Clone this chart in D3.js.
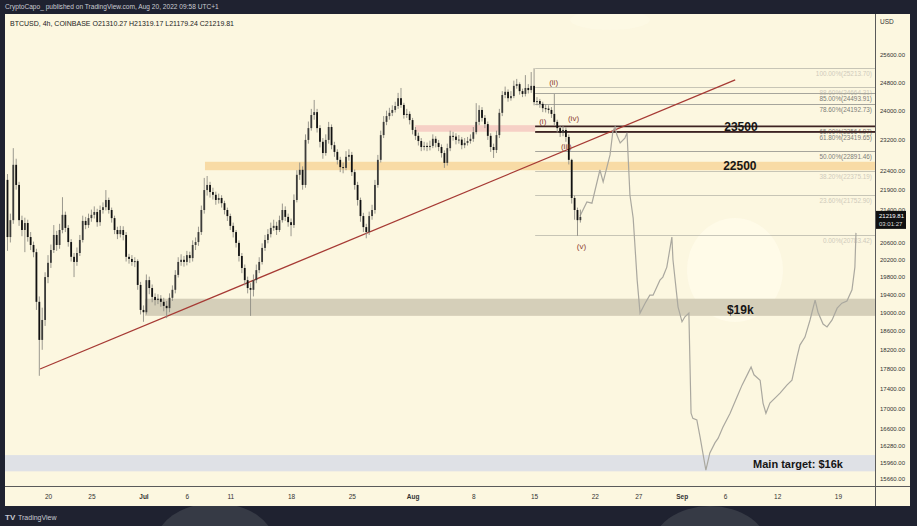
<!DOCTYPE html>
<html><head><meta charset="utf-8">
<script src="https://cdn.jsdelivr.net/npm/d3@7"></script>
<style>
html,body{margin:0;padding:0;background:#1f2230;}
svg{display:block;}
text{font-family:"Liberation Sans",Arial,sans-serif;}
</style></head><body>
<svg id="c" width="917" height="526"></svg>
<script>
// ---------------- DATA ----------------
const headerText = "CryptoCapo_ published on TradingView.com, Aug 20, 2022 09:58 UTC+1";
const symbolText = "BTCUSD, 4h, COINBASE  O21310.27  H21319.17  L21179.24  C21219.81";
const candleStart = "2022-06-15T08:00:00Z";
const candleHours = 8;
const firstOpen = 22150;
const closes = [20730,21140,22540,22020,21140,20900,21070,20730,20540,20370,
19230,18400,18830,19790,20120,20420,20780,20540,20900,21270,
20950,20610,20260,20140,20350,20660,21120,21020,21190,21270,
21340,21090,21390,21460,21640,21390,21190,20900,20800,20900,
20780,20260,20210,20140,20160,19610,19050,19000,19720,19540,
19340,19270,19300,19230,19140,19090,19320,19500,19840,20140,
20190,20140,20300,20230,20540,20610,20850,21390,21890,22020,
21840,21770,21640,21690,21560,21390,21240,21000,20850,20590,
20280,20000,19720,19540,19500,19720,19950,20140,20470,20660,
20800,20950,21000,20900,21140,21390,21220,21090,21020,21640,
22280,22410,22020,23200,23520,23880,23960,23520,23150,22850,
23200,23550,23060,22880,22670,22480,22460,22750,22800,22350,
22020,21640,21240,20970,20850,21240,21390,22020,22670,23330,
23690,23850,23940,24020,24130,24350,24160,23880,23910,23740,
23470,23310,23170,23010,23040,23010,23040,23230,23120,23010,
22850,22590,22980,23310,23290,23200,23210,23060,23120,23170,
23230,23410,23690,24020,23800,23630,23310,23010,22930,23330,
23940,24440,24530,24350,24410,24700,24750,24550,24470,24640,
24580,24700,24240,24270,24190,24070,24060,24020,23910,23690,
23520,23390,23470,23280,22670,21690,21390,21140,21219.81];
const highs = [22300,21300,22980,22700,22100,21250,21200,21150,20850,20620,
20450,19350,19100,19900,20300,20550,21020,20880,21050,21710,
21350,21020,20680,20350,20480,20780,21250,21220,21300,21400,
21480,21420,21500,21580,21890,21700,21450,21250,20980,21000,
20990,20850,20330,20300,20250,20200,19680,19150,19850,19800,
19620,19420,19400,19380,19320,19250,19420,19600,19950,20250,
20320,20280,20400,20380,20650,20720,20980,21500,22200,22250,
22100,21950,21850,21800,21760,21620,21450,21300,21080,20900,
20650,20350,20080,19800,19650,19850,20080,20250,20580,20780,
20920,21080,21150,21100,21250,21550,21480,21300,21180,21780,
22400,22600,22500,23350,23700,24050,24300,24050,23600,23250,
23350,23690,23620,23150,22950,22750,22600,22900,22950,22880,
22420,22100,21700,21320,21050,21350,21520,22150,22800,23450,
23850,24000,24080,24150,24250,24500,24640,24220,24050,23980,
23800,23550,23400,23250,23150,23130,23180,23350,23300,23200,
23080,22920,23100,23450,23420,23380,23330,23280,23250,23280,
23350,23550,24210,24150,24100,23880,23700,23380,23100,23450,
24050,24550,24680,24600,24550,24850,24900,24800,24620,25010,
24750,25100,25210,24380,24330,24250,24180,24150,24100,24470,
23750,23600,23580,23540,23350,22700,21750,21450,21400];
const lows = [20400,20600,21050,21900,21000,20750,20370,20620,20420,20250,
19050,17650,18190,18700,19650,20000,20350,20400,20450,20820,
20850,20500,20150,19790,20050,20280,20600,20920,20950,21100,
21180,20980,21000,21300,21380,21300,21080,20800,20680,20720,
20650,20150,20100,20050,20020,19500,18950,18790,18950,19400,
19220,19150,19180,19120,19020,18870,19000,19250,19420,19780,
20050,20030,20060,20120,20150,20420,20520,20780,21300,21750,
21700,21650,21520,21550,21450,21280,21120,20900,20720,20480,
20150,19880,19600,19420,18920,19350,19650,19880,20080,20400,
20580,20720,20880,20780,20850,21080,21120,20980,20750,20950,
21580,22150,21900,21950,23100,23450,23750,23400,23000,22700,
22780,23100,22950,22750,22550,22350,22320,22400,22650,22250,
21900,21500,21100,20850,20700,20780,21150,21300,21950,22600,
23250,23600,23750,23850,23950,24050,24080,23780,23800,23620,
23350,23200,23050,22900,22920,22900,22920,22980,23000,22900,
22730,22460,22520,22900,23180,23080,23100,22950,22980,23050,
23100,23150,23350,23600,23700,23520,23200,22880,22720,22850,
23250,23850,24350,24250,24280,24350,24620,24450,24380,24400,
24480,24500,24150,24150,24080,23960,23950,23920,23800,23600,
23400,23280,23300,23150,22550,21550,21150,20760,21080];

// forecast path (drawn by the author)
const forecastDates = ["2022-08-20T07:00Z","2022-08-21T02:00Z","2022-08-21T16:00Z","2022-08-22T14:00Z","2022-08-22T23:00Z",
"2022-08-23T18:00Z","2022-08-24T02:00Z","2022-08-24T08:00Z","2022-08-24T13:00Z","2022-08-24T22:00Z",
"2022-08-25T11:00Z","2022-08-25T17:00Z","2022-08-26T01:00Z","2022-08-26T10:00Z","2022-08-26T21:00Z",
"2022-08-27T05:00Z","2022-08-27T19:00Z","2022-08-28T08:00Z","2022-08-28T17:00Z","2022-08-29T12:00Z",
"2022-08-29T20:00Z","2022-08-30T07:00Z","2022-08-30T21:00Z","2022-08-31T00:00Z","2022-08-31T14:00Z",
"2022-09-01T01:00Z","2022-09-01T09:00Z","2022-09-01T20:00Z","2022-09-02T02:00Z","2022-09-02T07:00Z",
"2022-09-02T18:00Z","2022-09-03T03:00Z","2022-09-03T19:00Z","2022-09-04T06:00Z","2022-09-04T20:00Z",
"2022-09-05T05:00Z","2022-09-05T18:00Z","2022-09-06T14:00Z","2022-09-07T09:00Z","2022-09-07T23:00Z",
"2022-09-08T16:00Z","2022-09-09T00:00Z","2022-09-09T08:00Z","2022-09-10T01:00Z","2022-09-10T09:00Z",
"2022-09-10T17:00Z","2022-09-11T04:00Z","2022-09-11T18:00Z","2022-09-12T08:00Z","2022-09-13T03:00Z",
"2022-09-13T17:00Z","2022-09-14T07:00Z","2022-09-14T15:00Z","2022-09-15T05:00Z","2022-09-15T19:00Z",
"2022-09-16T09:00Z","2022-09-16T17:00Z","2022-09-17T07:00Z","2022-09-17T18:00Z","2022-09-18T08:00Z",
"2022-09-18T22:00Z","2022-09-19T11:00Z","2022-09-20T01:00Z","2022-09-20T15:00Z","2022-09-20T23:00Z",
"2022-09-21T02:00Z"];
const forecastPrices = [21240,21590,21560,22405,22100,
22800,23440,23550,23330,23120,
23250,23390,21765,21190,19720,
18980,19200,19380,19380,19720,
19790,20020,20730,20190,19120,
18790,18900,18980,16900,16800,
16770,16440,15820,16140,16330,
16420,16630,16900,17220,17460,
17710,17830,17670,17560,17100,
16900,17100,17200,17300,17460,
17560,18040,18290,18460,18830,
19270,19000,18740,18680,18830,
19090,19200,19250,19500,20020,
20830];

// trendline
const trendDates = ["2022-06-19T02:00Z","2022-09-07T04:00Z"];
const trendPrices = [17790,24870];

// fibonacci retracement
const fibStart = "2022-08-15T03:00Z";
const fibLevels = [1, 0.886, 0.85, 0.786, 0.65, 0.618, 0.5, 0.382, 0.236, 0];
const fibPrices = [25213.70, 24664.31, 24493.91, 24192.73, 23564.97, 23419.65, 22891.46, 22375.19, 21752.90, 20783.42];

// zones
const zoneNames = ["19k","22500","23500","16k"];
const zoneStart = ["2022-07-01T04:00Z","2022-07-08T02:00Z","2022-08-01T07:00Z","2022-06-15T00:00Z"];
const zoneEnd   = ["end","end","2022-08-15T03:00Z","end"];
const zoneTop   = [19300, 22620, 23600, 16100];
const zoneBottom= [18920, 22400, 23420, 15800];

// text annotations
const noteTexts  = ["23500","22500","$19k","Main target: $16k"];
const noteDates  = ["2022-09-07T20:00Z","2022-09-07T17:00Z","2022-09-07T18:00Z","2022-09-19T14:00Z"];
const notePrices = [23430, 22400, 18960, 15860];

// wave count
const waveLabels = ["(i)","(ii)","(iii)","(iv)","(v)"];
const waveDates  = ["2022-08-16T00:00Z","2022-08-17T06:00Z","2022-08-18T17:00Z","2022-08-19T13:00Z","2022-08-20T11:00Z"];
const wavePrices = [23620, 24720, 22950, 23720, 20450];

// axes
const priceTicks = [25600,24800,24000,23200,22400,21900,21400,20600,20200,19800,19400,19000,18600,18200,17800,17400,17000,16600,16280,15960,15660];
const timeTicks = ["2022-06-20","2022-06-25","2022-07-01","2022-07-06","2022-07-11","2022-07-18","2022-07-25","2022-08-01","2022-08-08","2022-08-15","2022-08-22","2022-08-27","2022-09-01","2022-09-06","2022-09-12","2022-09-19"];
const timeLabels = ["20","25","Jul","6","11","18","25","Aug","8","15","22","27","Sep","6","12","19"];
const lastPrice = 21219.81;
const countdown = "03:01:27";

// ---------------- LAYOUT ----------------
const W = 917, H = 526;
const P = {l:5, r:875, t:14, b:486, panelR:910, panelB:506};
const svg = d3.select("#c");
const parse = s => new Date(s.length === 10 ? s + "T00:00:00Z" : s);

const x = d3.scaleUtc()
  .domain([new Date(Date.UTC(2022,5,15,1,6)), new Date(Date.UTC(2022,8,23,6,37))])
  .range([P.l, P.r]);
const y = d3.scaleLog().domain([25600, 15660]).range([55, 479]);

// frame
svg.append("rect").attr("width",W).attr("height",H).attr("fill","#1f2230");
svg.append("ellipse").attr("cx",215).attr("cy",545).attr("rx",60).attr("ry",42).attr("fill","#363a45");
svg.append("ellipse").attr("cx",710).attr("cy",548).attr("rx",58).attr("ry",42).attr("fill","#363a45");
svg.append("text").attr("x",5).attr("y",9).attr("fill","#c9cbd2").attr("font-size","6.6px").text(headerText);
svg.append("rect").attr("x",P.l).attr("y",P.t).attr("width",P.panelR-P.l).attr("height",P.panelB-P.t).attr("fill","#fcf7e0");

svg.append("defs").append("clipPath").attr("id","plot")
  .append("rect").attr("x",P.l).attr("y",P.t).attr("width",P.r-P.l).attr("height",P.b-P.t);
const g = svg.append("g").attr("clip-path","url(#plot)");

// faint watermark blobs
g.append("ellipse").attr("cx",735).attr("cy",270).attr("rx",48).attr("ry",52).attr("fill","#fffbea").attr("opacity",0.8);
g.append("ellipse").attr("cx",610).attr("cy",20).attr("rx",40).attr("ry",10).attr("fill","#fffbea").attr("opacity",0.35);

// zones
const zoneFill = ["#d5cfb9","#f8dba5","#f6d0c6","#dfe1e6"];
zoneNames.forEach((n,i)=>{
  const x0 = x(parse(zoneStart[i]));
  const x1 = zoneEnd[i]==="end" ? P.r : x(parse(zoneEnd[i]));
  g.append("rect").attr("x",x0).attr("width",x1-x0)
   .attr("y",y(zoneTop[i])).attr("height",y(zoneBottom[i])-y(zoneTop[i]))
   .attr("fill",zoneFill[i]);
});

// fib lines
const faint = new Set([0,1,7,8,9]);
const fx0 = x(parse(fibStart));
fibLevels.forEach((lv,i)=>{
  const yy = Math.round(y(fibPrices[i]))+0.5;
  g.append("line").attr("x1",fx0).attr("x2",P.r).attr("y1",yy).attr("y2",yy)
   .attr("stroke", "#9d9d95").attr("stroke-width",1).attr("opacity", faint.has(i)?0.55:0.9);
  g.append("text").attr("x",P.r-3).attr("y",yy+7).attr("text-anchor","end")
   .attr("font-size","6.4px").attr("fill", faint.has(i)?"#cfcabb":"#7d7d78")
   .text((lv*100).toFixed(2)+"%("+fibPrices[i].toFixed(2)+")");
});
// 23500 zone lines
[4,5].forEach(i=>{
  const yy = y(fibPrices[i]);
  g.append("line").attr("x1",fx0).attr("x2",P.r).attr("y1",yy).attr("y2",yy)
   .attr("stroke","#3e2322").attr("stroke-width",1.8);
});

// trendline
g.append("line")
  .attr("x1",x(parse(trendDates[0]))).attr("y1",y(trendPrices[0]))
  .attr("x2",x(parse(trendDates[1]))).attr("y2",y(trendPrices[1]))
  .attr("stroke","#a63a34").attr("stroke-width",1.3);

// forecast path
const fc = forecastDates.map((d,i)=>[parse(d), forecastPrices[i]]);
g.append("path").datum(fc)
  .attr("d", d3.line().x(d=>x(d[0])).y(d=>y(d[1])))
  .attr("fill","none").attr("stroke","#aaa89f").attr("stroke-width",1.2);

// candles
const t0 = parse(candleStart).getTime();
const candles = closes.map((c,i)=>({
  t: new Date(t0 + i*candleHours*3600e3),
  o: i===0 ? firstOpen : closes[i-1], c, h: highs[i], l: lows[i]
}));
const bw = 1.8;
const cg = g.append("g");
cg.selectAll("line.w").data(candles).join("line").attr("class","w")
  .attr("x1",d=>x(d.t)).attr("x2",d=>x(d.t))
  .attr("y1",d=>y(d.h)).attr("y2",d=>y(d.l))
  .attr("stroke","#8e8d85").attr("stroke-width",0.9);
cg.selectAll("rect").data(candles).join("rect")
  .attr("x",d=>x(d.t)-bw/2).attr("width",bw)
  .attr("y",d=>y(Math.max(d.o,d.c)))
  .attr("height",d=>Math.max(1,Math.abs(y(d.o)-y(d.c))))
  .attr("fill",d=>d.c>=d.o?"#3c3c3a":"#111");

// notes
const noteAnchor = ["middle","middle","middle","end"];
const noteSize = ["12px","12px","12px","11px"];
noteTexts.forEach((t,i)=>{
  g.append("text").attr("x",x(parse(noteDates[i]))).attr("y",y(notePrices[i]))
   .attr("text-anchor",noteAnchor[i]).attr("font-weight","bold")
   .attr("font-size", noteSize[i]).attr("fill","#151515")
   .text(t);
});
// waves
waveLabels.forEach((t,i)=>{
  g.append("text").attr("x",x(parse(waveDates[i]))).attr("y",y(wavePrices[i]))
   .attr("text-anchor","middle").attr("font-size","8px").attr("fill","#8b3d31").text(t);
});

// symbol line
svg.append("text").attr("x",10).attr("y",26).attr("font-size","7px").attr("fill","#222").text(symbolText);

// axes
svg.append("line").attr("x1",P.r+0.5).attr("x2",P.r+0.5).attr("y1",P.t).attr("y2",P.panelB).attr("stroke","#5a5a5a");
svg.append("line").attr("x1",P.l).attr("x2",P.panelR).attr("y1",P.b+0.5).attr("y2",P.b+0.5).attr("stroke","#5a5a5a");

const ya = svg.append("g").attr("transform",`translate(${P.r},0)`)
  .call(d3.axisRight(y).tickValues(priceTicks).tickFormat(d3.format(".2f")).tickSize(0).tickPadding(5));
ya.select(".domain").remove();
ya.selectAll("text").attr("font-size","6px").attr("fill","#333").attr("font-family","Liberation Sans, Arial, sans-serif");
svg.append("text").attr("x",880).attr("y",24).attr("font-size","6.5px").attr("fill","#333").text("USD");

const xa = svg.append("g").attr("transform",`translate(0,${P.b})`)
  .call(d3.axisBottom(x).tickValues(timeTicks.map(parse)).tickFormat((d,i)=>timeLabels[i]).tickSize(0).tickPadding(8));
xa.select(".domain").remove();
xa.selectAll("text").attr("font-size","6.5px").attr("fill","#333").attr("font-family","Liberation Sans, Arial, sans-serif")
  .attr("font-weight",(d,i)=>/^[A-Z]/.test(timeLabels[i])?"bold":"normal");

// last price tag
const ly = y(lastPrice);
svg.append("rect").attr("x",P.r+1).attr("y",ly-6).attr("width",30).attr("height",18).attr("fill","#111");
svg.append("text").attr("x",P.r+4).attr("y",ly+1.5).attr("font-size","6px").attr("fill","#fff").text(d3.format(".2f")(lastPrice));
svg.append("text").attr("x",P.r+4).attr("y",ly+9.5).attr("font-size","6px").attr("fill","#ddd").text(countdown);

// footer logo
svg.append("text").attr("x",5).attr("y",520).attr("font-size","8px").attr("font-weight","bold").attr("fill","#c9cbd2").text("TV");
svg.append("text").attr("x",18).attr("y",520).attr("font-size","7px").attr("fill","#c9cbd2").text("TradingView");
</script>
</body></html>
